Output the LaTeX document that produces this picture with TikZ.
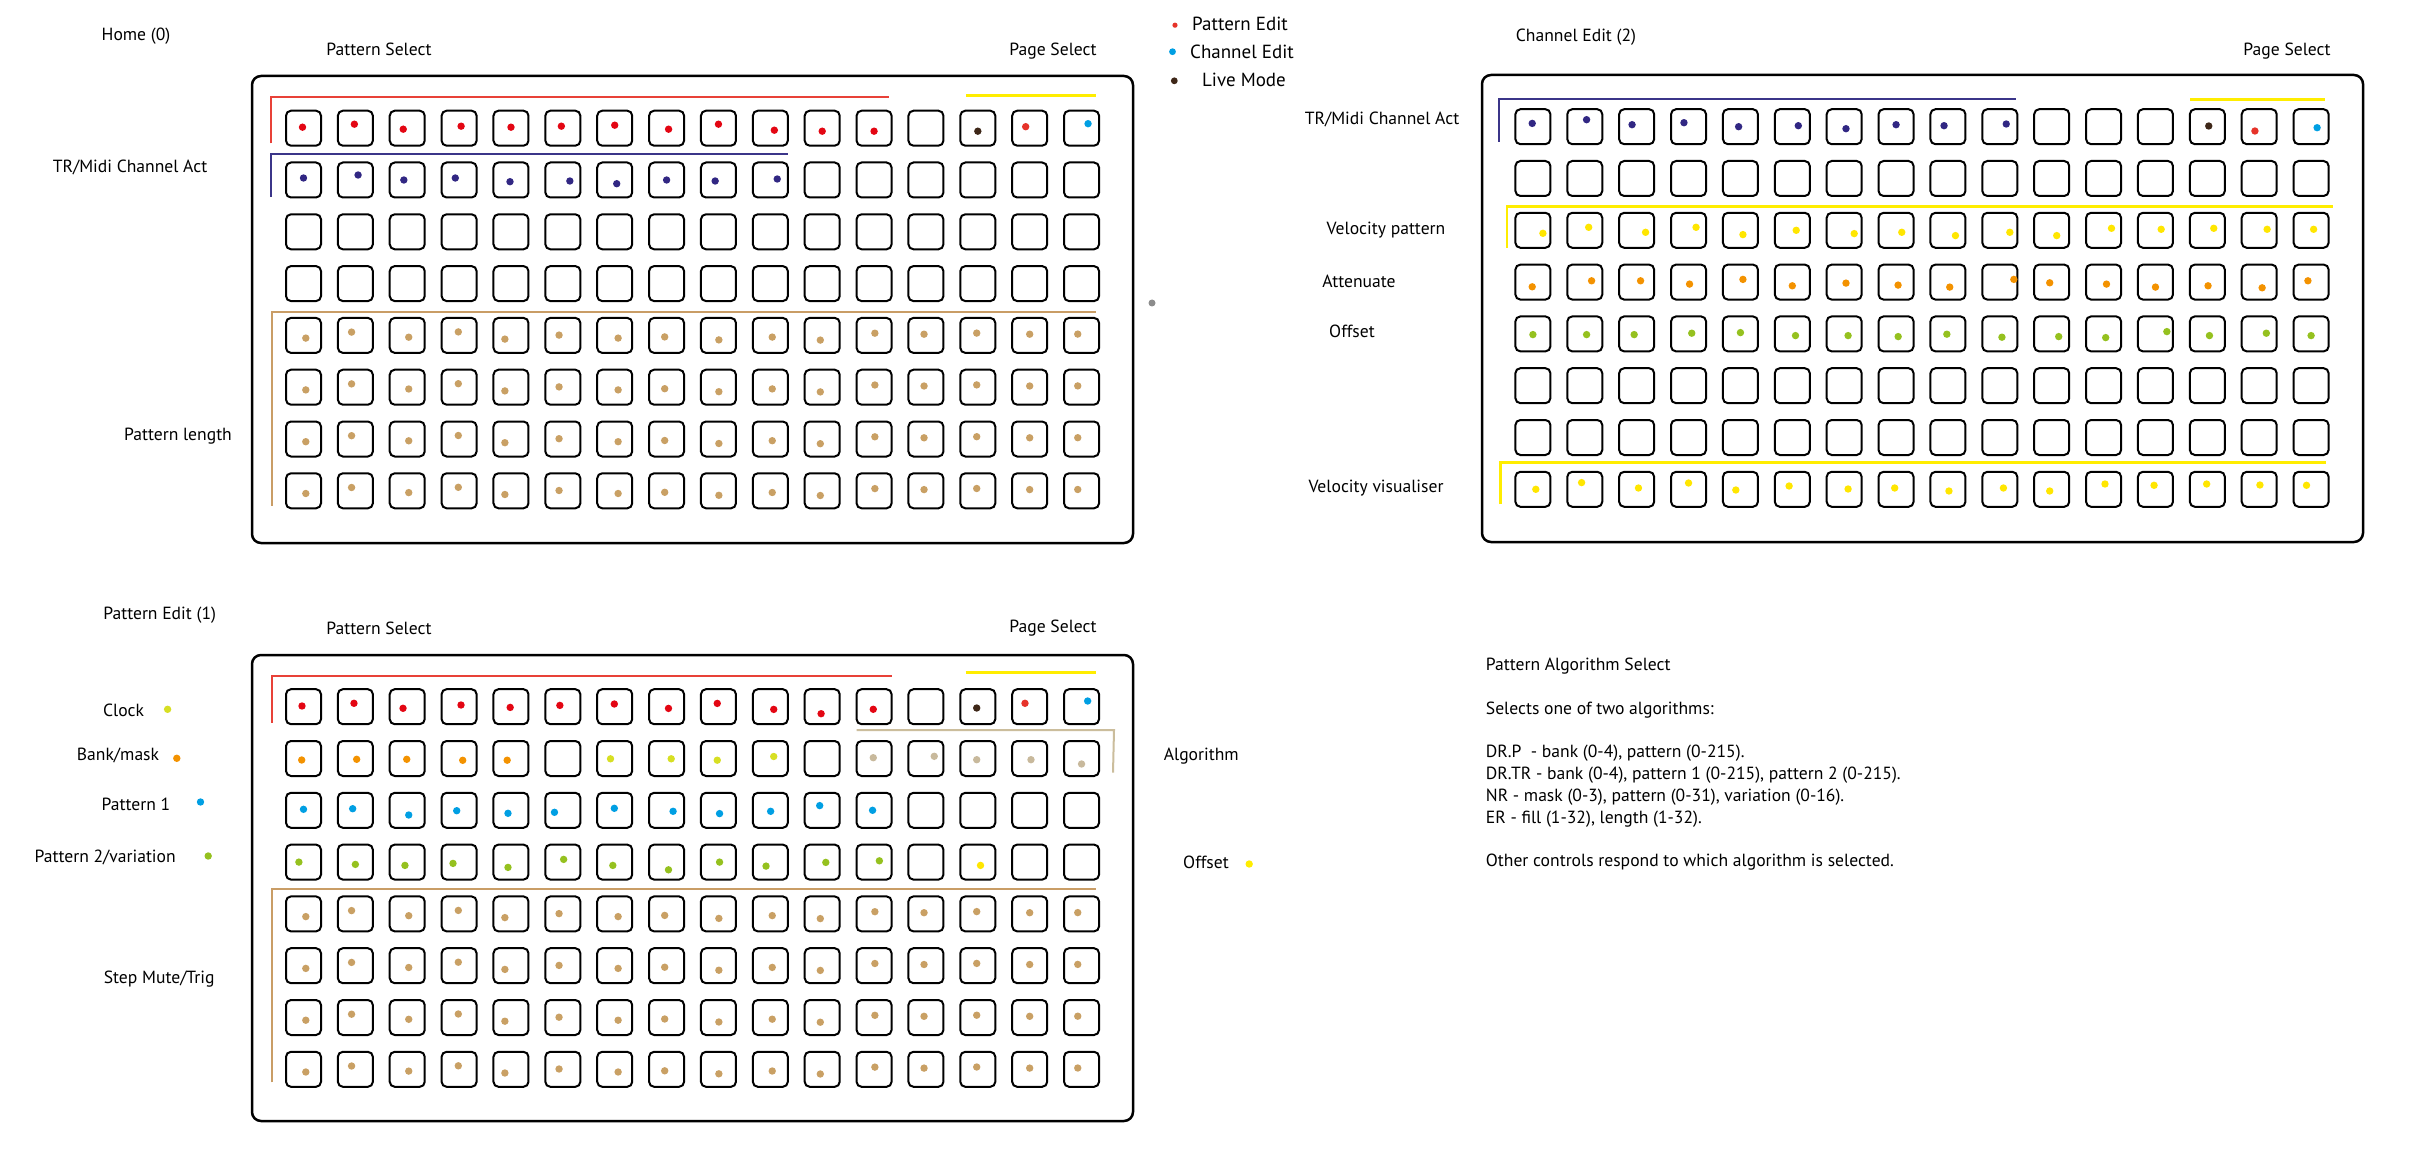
\documentclass[tikz,border=0pt]{standalone}
\usepackage{fontspec}
\setmainfont{PT Sans}
\definecolor{dred}{HTML}{E30613}
\definecolor{dredb}{HTML}{E6332A}
\definecolor{lred}{HTML}{E84138}
\definecolor{dindigo}{HTML}{312783}
\definecolor{lindigo}{HTML}{3B3589}
\definecolor{dcyan}{HTML}{009FE3}
\definecolor{dbrown}{HTML}{3E2718}
\definecolor{dyellow}{HTML}{FFE600}
\definecolor{lyellow}{HTML}{FFED00}
\definecolor{dlime}{HTML}{D7DF23}
\definecolor{dorange}{HTML}{F39200}
\definecolor{dgreen}{HTML}{95C11F}
\definecolor{dtan}{HTML}{C9A064}
\definecolor{ltan}{HTML}{C99D66}
\definecolor{dbeige}{HTML}{C8B99C}
\definecolor{lbeige}{HTML}{CBBD9C}
\definecolor{dgray}{HTML}{8C8C8C}
\newcommand\dotsrow[4]{\foreach \cc/\dx/\dy in #4 {\fill[#3] ([shift={(\dx,\dy)}]#1-\cc-#2.center) circle (3.7);}}
\def\tanlist{1/2.3/2.7,2/-3.8/-3.3,3/1.5/1.8,4/-0.8/-3.5,5/-6.1/3.7,6/-3.8/-0.3,7/3.4/2.7,8/-1.9/1.5,9/0.4/4.5,10/1.9/1.7,11/-1.9/4.7,12/0.8/-2.2,13/-1.9/-1.2,14/-1.1/-2.3,15/0/-1.2,16/-3.8/-1.3}
\begin{document}
\begin{tikzpicture}[x=1pt,y=-1pt,
  btn/.style={draw=black, line width=2pt, rounded corners=5pt, minimum width=35pt, minimum height=35pt, inner sep=0pt},
  panel/.style={draw=black, line width=2.5pt, rounded corners=9pt},
  lbl/.style={anchor=base, inner sep=0pt, font=\fontsize{17.6}{20}\selectfont},
  lblw/.style={lbl, anchor=base west},
  leg/.style={anchor=base, inner sep=0pt, font=\fontsize{19}{22}\selectfont},
  grp/.style={line width=2pt},
]
\useasboundingbox (0,0) rectangle (2420,1166);
\fill[white] (0,0) rectangle (2420,1166);

% panels
\draw[panel] (252,76) rectangle (1133,543);
\draw[panel] (1482,75) rectangle (2363,542);
\draw[panel] (252,655) rectangle (1133,1121);

% buttons
\foreach \i in {1,...,16}{\foreach \j in {1,...,8}{
  \node[btn] (h-\i-\j) at ({303.5+51.87*(\i-1)},{128.2+51.8*(\j-1)}) {};
  \node[btn] (c-\i-\j) at ({1532.9+51.88*(\i-1)},{126.7+51.8*(\j-1)}) {};
  \node[btn] (p-\i-\j) at ({303.5+51.87*(\i-1)},{706.7+51.8*(\j-1)}) {};
}}

% ---- Home (0) dots
\dotsrow{h}{1}{dred}{{1/-1/-1,2/-1/-4,3/-4/1,4/2/-2,5/0/-1,6/-1.5/-2,7/0/-3,8/2/1,9/0/-4,10/4/2,11/0/3,12/0/3}}
\dotsrow{h}{1}{dbrown}{{14/0/3}}
\dotsrow{h}{1}{dredb}{{15/-4/-1.5}}
\dotsrow{h}{1}{dcyan}{{16/6.5/-4.5}}
\dotsrow{h}{2}{dindigo}{{1/0/-2,2/2.7/-5,3/-3.4/0,4/-3.8/-2,5/-1/1.7,6/7/1,7/2/3.7,8/0/0,9/-3.3/1,10/6.9/-1}}
\foreach \r in {5,...,8}{\dotsrow{h}{\r}{dtan}{\tanlist}}

% ---- Channel Edit (2) dots
\dotsrow{c}{1}{dindigo}{{1/-0.7/-3.3,2/1.8/-7,3/-4.6/-2,4/-4.6/-4,5/-1.8/0,6/6/-1,7/1.8/2,8/0/-2,9/-3.9/-1,10/6.4/-2.7}}
\dotsrow{c}{1}{dbrown}{{14/1.4/-0.7}}
\dotsrow{c}{1}{dredb}{{15/-4.3/4.3}}
\dotsrow{c}{1}{dcyan}{{16/6/1}}
\dotsrow{c}{3}{dyellow}{{1/10/3,2/3.9/-3,3/8.9/2,4/7.5/-3,5/2.5/4.3,6/3.9/0,7/10/3.3,8/5.7/2,9/7.5/5.3,10/10/2,11/5/5.3,12/7.9/-2,13/5.7/-1,14/6.4/-2,15/7.9/-1,16/2.5/-1}}
\dotsrow{c}{4}{dorange}{{1/-0.7/4.7,2/6.8/-1.3,3/3.9/-1.3,4/1/2,5/2.5/-2.7,6/0/3.7,7/1.8/1,8/2/3,9/1.8/5,10/14/-2.7,11/-2/0.7,12/2.9/2,13/0/5,14/0.7/3.7,15/2.9/5.7,16/-3.2/-1.3}}
\dotsrow{c}{5}{dgreen}{{1/0/0.7,2/1.8/0.7,3/-2.5/0.7,4/3.2/-0.7,5/0/-1.3,6/3.2/1.7,7/3.9/1.7,8/2.1/2.7,9/-1.1/0.3,10/2.1/3.3,11/7/2.7,12/2.1/3.7,13/11.4/-2.3,14/2.1/1.7,15/7.1/-0.7,16/0/1.7}}
\dotsrow{c}{8}{dyellow}{{1/2.9/0,2/-3.2/-6.7,3/1.8/-1.3,4/0/-6.3,5/-4.6/0.7,6/-3.2/-3.3,7/3.9/-0.3,8/-1.4/-1.3,9/1/1.7,10/3.6/-1.3,11/-2/1.7,12/1.4/-5.3,13/-1.4/-4,14/-0.7/-5.3,15/0.7/-4.3,16/-4.6/-4}}

% ---- Pattern Edit (1) dots
\dotsrow{p}{1}{dred}{{1/-1.5/-0.7,2/-1.4/-3.4,3/-4.2/1.6,4/1.9/-1.7,5/-0.8/0.7,6/-3/-1.3,7/-0.4/-2.7,8/1.9/1.7,9/-1.2/-3.3,10/3.4/2.7,11/-1.1/7,12/-0.8/2.6}}
\dotsrow{p}{1}{dbrown}{{14/-1.1/1.3}}
\dotsrow{p}{1}{dredb}{{15/-4.7/-3.4}}
\dotsrow{p}{1}{dcyan}{{16/6.1/-5.7}}
\dotsrow{p}{2}{dorange}{{1/-1.8/1.5,2/1.3/0.8,3/-0.5/0.8,4/3.6/1.8,5/-3.8/1.7}}
\dotsrow{p}{2}{dlime}{{7/-4.2/0.3,8/4.6/0.3,9/-1.2/1.7,10/3.4/-2}}
\dotsrow{p}{2}{dbeige}{{12/-0.8/-0.8,13/8.3/-2.2,14/-1.1/1.2,15/1.3/1.2,16/0/5.5}}
\dotsrow{p}{3}{dcyan}{{1/0/-1,2/-2.7/-1.6,3/1.5/4.7,4/-2.4/0.4,5/-3/3,6/-8.4/2,7/-0.4/-2,8/6.5/1,9/1.1/3.3,10/0.3/1,11/-2.5/-4.7,12/-1.5/0}}
\dotsrow{p}{4}{dgreen}{{1/-4.6/0,2/0/2.3,3/-2.3/3.3,4/-6.1/1.3,5/-3/5.3,6/0.8/-2.7,7/-1.9/3.3,8/1.9/7.7,9/1.1/0,10/-4.3/4,11/3.6/0.3,12/5.3/-1.3}}
\dotsrow{p}{4}{dyellow}{{14/2.7/3.3}}
\foreach \r in {5,...,8}{\dotsrow{p}{\r}{dtan}{\tanlist}}

% ---- group lines
\draw[grp, lred, line width=1.8pt] (271,143.3) -- (271,97) -- (889.3,97);
\draw[grp, lyellow, line width=2.5pt] (966,95.7) -- (1095.5,95.7);
\draw[grp, lindigo] (271,196.7) -- (271,154) -- (787.5,154);
\draw[grp, ltan] (271.7,505.7) -- (271.7,311.7) -- (1096,311.7);

\draw[grp, lindigo] (1499.3,141.7) -- (1499.3,98.7) -- (2015.7,98.7);
\draw[grp, lyellow, line width=2.5pt] (2190,99.7) -- (2325,99.7);
\draw[grp, lyellow, line width=2.5pt] (1507,248) -- (1507,206.7) -- (2332.9,206.7);
\draw[grp, lyellow, line width=2.5pt] (1500.7,504.3) -- (1500.7,462.7) -- (2325.7,462.7);

\draw[grp, lred, line width=1.8pt] (271.7,722.7) -- (271.7,676.3) -- (892.3,676.3);
\draw[grp, lyellow, line width=2.5pt] (965.7,672.7) -- (1095.7,672.7);
\draw[grp, lbeige] (856.7,730) -- (1114,730) -- (1113,772.7);
\draw[grp, ltan] (271.7,1082.3) -- (271.7,888.7) -- (1096,888.7);

% stray dot
\fill[dgray] (1152,303) circle (3.5);

% ---- legend
\fill[dredb] (1175,25.2) circle (2.6);
\fill[dcyan] (1172.5,51.7) circle (3.4);
\fill[dbrown] (1174.3,80.8) circle (3.4);
\node[leg] (lg1) at (1240,30.7) {Pattern Edit};
\node[leg] (lg2) at (1242,58.3) {Channel Edit};
\node[leg] (lg3) at (1244,86.7) {Live Mode};

% ---- Home labels
\node[lbl] (th0) at (136,41) {Home (0)};
\node[lbl] (th1) at (379,55.3) {Pattern Select};
\node[lbl] (th2) at (1053,55.3) {Page Select};
\node[lbl] (th3) at (130,173) {TR/Midi Channel Act};
\node[lbl] (th4) at (178,440.3) {Pattern length};

% ---- Channel labels
\node[lbl] (tc0) at (1576,41.7) {Channel Edit (2)};
\node[lbl] (tc1) at (2287,56) {Page Select};
\node[lbl] (tc2) at (1382,124.3) {TR/Midi Channel Act};
\node[lbl] (tc3) at (1386,234.7) {Velocity pattern};
\node[lbl] (tc4) at (1359,287.3) {Attenuate};
\node[lbl] (tc5) at (1352,337.3) {Offset};
\node[lbl] (tc6) at (1376,492.3) {Velocity visualiser};

% ---- Pattern Edit labels
\node[lbl] (tp0) at (159.7,619.3) {Pattern Edit (1)};
\node[lbl] (tp1) at (379,634) {Pattern Select};
\node[lbl] (tp2) at (1053,632.3) {Page Select};
\node[lbl] (tp3) at (123.6,716) {Clock};
\node[lbl] (tp4) at (118,760) {Bank/mask};
\node[lbl] (tp5) at (135.9,810) {Pattern 1};
\node[lbl] (tp6) at (105.2,862) {Pattern 2/variation};
\node[lbl] (tp7) at (159.2,983.3) {Step Mute/Trig};
\node[lbl] (tp8) at (1201.3,760) {Algorithm};
\node[lbl] (tp9) at (1206,868.7) {Offset};
\fill[dlime] (167.6,709.3) circle (3.7);
\fill[dorange] (176.8,758.3) circle (3.7);
\fill[dcyan] (200.5,802) circle (3.7);
\fill[dgreen] (208.2,856) circle (3.7);
\fill[lyellow] (1249.2,864) circle (3.7);

% ---- algorithm description
\node[lblw] (ta0) at (1485.7,670.7) {Pattern Algorithm Select};
\node[lblw] (ta1) at (1485.7,714.7) {Selects one of two algorithms:};
\node[lblw] (ta2) at (1485.7,757) {DR.P\ \ - bank (0-4), pattern (0-215).};
\node[lblw] (ta3) at (1485.7,779.3) {DR.TR - bank (0-4), pattern 1 (0-215), pattern 2 (0-215).};
\node[lblw] (ta4) at (1485.7,801.3) {NR - mask (0-3), pattern (0-31), variation (0-16).};
\node[lblw] (ta5) at (1485.7,823.3) {ER - fill (1-32), length (1-32).};
\node[lblw] (ta6) at (1485.7,866.3) {Other controls respond to which algorithm is selected.};
\end{tikzpicture}
\end{document}
